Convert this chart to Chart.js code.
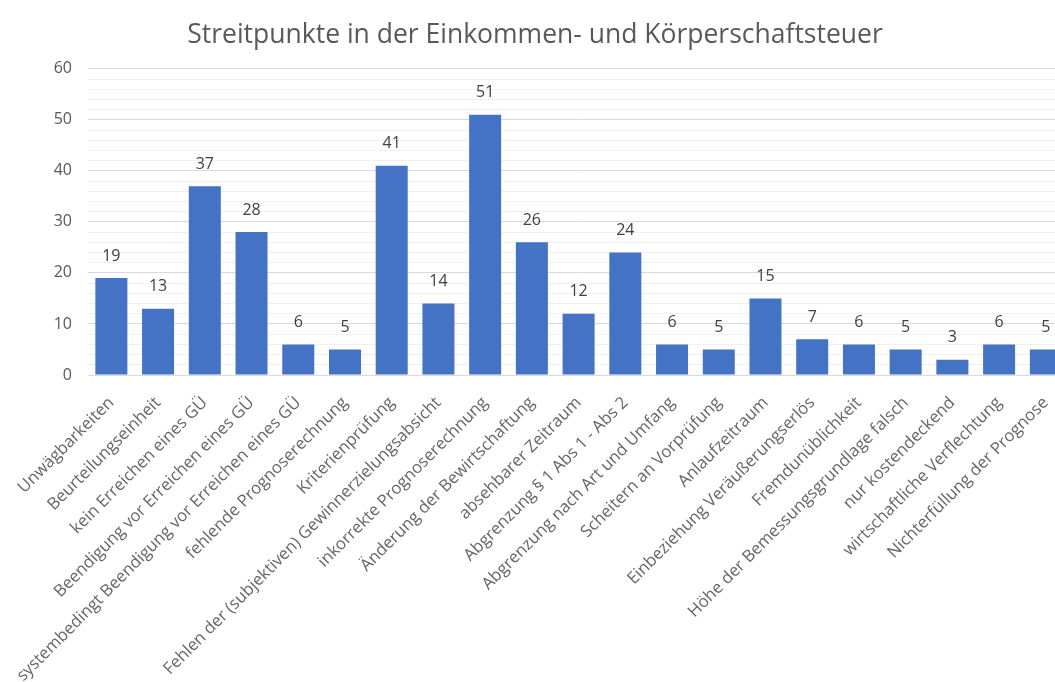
<!DOCTYPE html>
<html>
<head>
<meta charset="utf-8">
<script src="https://cdn.jsdelivr.net/npm/chart.js@4.4.0/dist/chart.umd.min.js"></script>
<style>
  html, body { margin: 0; padding: 0; overflow: hidden; background: #fff; }
</style>
</head>
<body>
<canvas id="barChart" width="1070" height="682"></canvas>
<script>
var categories = [
  "Unwägbarkeiten",
  "Beurteilungseinheit",
  "kein Erreichen eines GÜ",
  "Beendigung vor Erreichen eines GÜ",
  "systembedingt Beendigung vor Erreichen eines GÜ",
  "fehlende Prognoserechnung",
  "Kriterienprüfung",
  "Fehlen der (subjektiven) Gewinnerzielungsabsicht",
  "inkorrekte Prognoserechnung",
  "Änderung der Bewirtschaftung",
  "absehbarer Zeitraum",
  "Abgrenzung § 1 Abs 1 - Abs 2",
  "Abgrenzung nach Art und Umfang",
  "Scheitern an Vorprüfung",
  "Anlaufzeitraum",
  "Einbeziehung Veräußerungserlös",
  "Fremdunüblichkeit",
  "Höhe der Bemessungsgrundlage falsch",
  "nur kostendeckend",
  "wirtschaftliche Verflechtung",
  "Nichterfüllung der Prognose"
];
var counts = [19, 13, 37, 28, 6, 5, 41, 14, 51, 26, 12, 24, 6, 5, 15, 7, 6, 5, 3, 6, 5];
var yTicks = [0, 10, 20, 30, 40, 50, 60];

// value labels above each bar
var barValues = {
  id: 'barValues',
  afterDatasetsDraw: function(chart) {
    var ctx = chart.ctx;
    var meta = chart.getDatasetMeta(0);
    ctx.save();
    ctx.font = '16px "Open Sans"';
    ctx.fillStyle = '#404040';
    ctx.textAlign = 'center';
    ctx.textBaseline = 'middle';
    meta.data.forEach(function(bar, i) {
      ctx.fillText(counts[i], bar.x, bar.y - 22);
    });
    ctx.restore();
  }
};

var ctx = document.getElementById("barChart");
var barChart = new Chart(ctx, {
  type: 'bar',
  plugins: [barValues],
  data: {
    labels: categories,
    datasets: [{
      data: counts,
      backgroundColor: '#4472C4',
      barPercentage: 0.685,
      categoryPercentage: 1.0
    }]
  },
  options: {
    responsive: false,
    animation: false,
    layout: { padding: 0 },
    plugins: {
      legend: { display: false },
      tooltip: { enabled: false },
      title: {
        display: true,
        text: 'Streitpunkte in der Einkommen- und Körperschaftsteuer',
        color: '#595959',
        font: { family: 'Open Sans', size: 26.5, weight: 'normal' },
        padding: { top: 20, bottom: 17 }
      }
    },
    scales: {
      x: {
        grid: { display: false },
        border: { display: false },
        ticks: {
          autoSkip: false,
          maxRotation: 45,
          minRotation: 45,
          padding: 10,
          color: '#666666',
          font: { family: 'Open Sans', size: 16.7 }
        },
        afterFit: function(scale) { scale.height = 307; }
      },
      y: {
        min: 0,
        max: 60,
        border: { display: false },
        grid: {
          drawTicks: false,
          color: function(c) {
            return c.tick.value % 10 === 0 ? '#d9d9d9' : '#f0f0f0';
          }
        },
        ticks: {
          autoSkip: false,
          stepSize: 2,
          padding: 16,
          color: '#595959',
          font: { family: 'Open Sans', size: 16 },
          callback: function(v) { return yTicks.indexOf(v) >= 0 ? v : ''; }
        },
        afterFit: function(scale) { scale.width = 88; }
      }
    }
  }
});
</script>
</body>
</html>
